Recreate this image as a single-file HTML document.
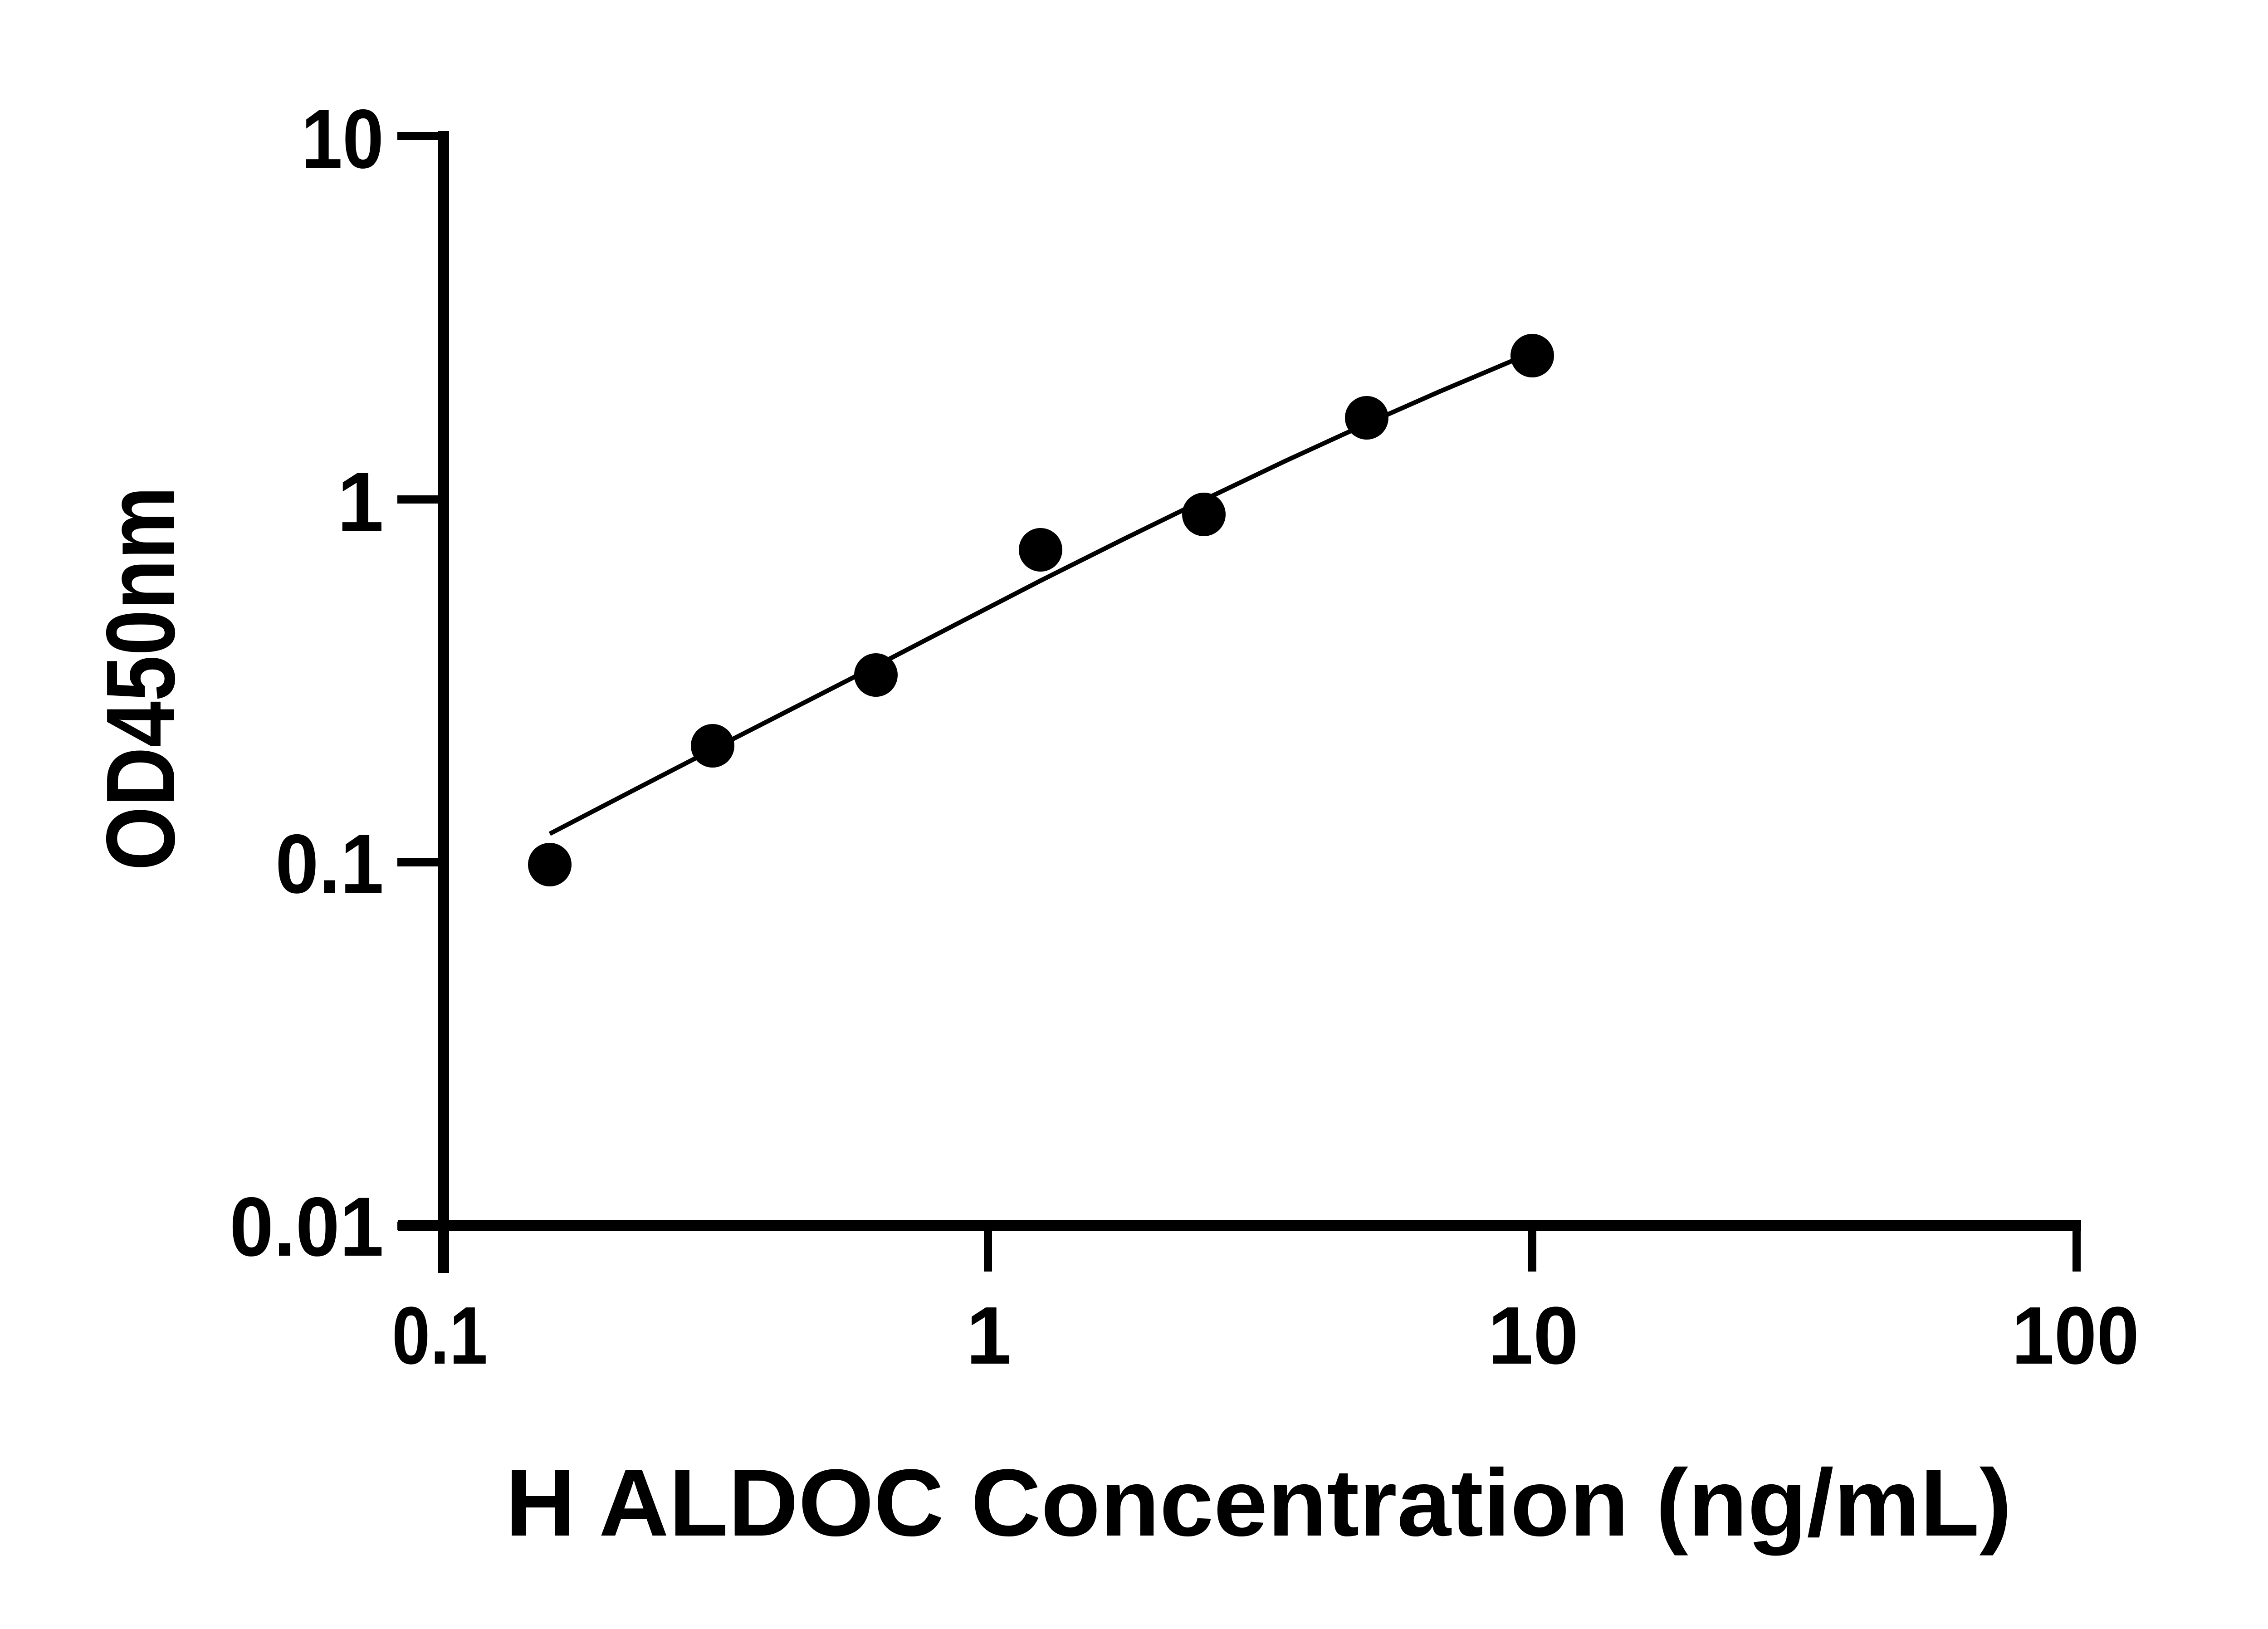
<!DOCTYPE html>
<html><head><meta charset="utf-8"><style>html,body{margin:0;padding:0;background:#fff}svg{display:block}</style></head>
<body>
<svg width="5138" height="3591" viewBox="0 0 5138 3591" xmlns="http://www.w3.org/2000/svg">
<rect width="5138" height="3591" fill="#fff"/>
<g stroke="#000" fill="none">
<line x1="978" y1="289" x2="978" y2="2806" stroke-width="24"/>
<line x1="877" y1="2702" x2="4588" y2="2702" stroke-width="24"/>
<g stroke-width="18">
<line x1="876" y1="300" x2="978" y2="300"/>
<line x1="876" y1="1101" x2="978" y2="1101"/>
<line x1="876" y1="1901" x2="978" y2="1901"/>
<line x1="876" y1="2702" x2="978" y2="2702"/>
<line x1="2178" y1="2702" x2="2178" y2="2803"/>
<line x1="3378" y1="2702" x2="3378" y2="2803"/>
<line x1="4578" y1="2702" x2="4578" y2="2803"/>
</g>
<polyline stroke-width="10" stroke-linejoin="round" points="1212,1838 1391,1745 1571,1652 1751,1560 1931,1468 2112,1374 2294,1280 2474,1190 2654,1102 2834,1016 3013,934 3174,863 3335,795"/>
</g>
<g fill="#000">
<circle cx="1212" cy="1906" r="48"/>
<circle cx="1571" cy="1644" r="48"/>
<circle cx="1931" cy="1488" r="48"/>
<circle cx="2294" cy="1212" r="48"/>
<circle cx="2654" cy="1134" r="48"/>
<circle cx="3013" cy="921" r="48"/>
<circle cx="3378" cy="784" r="48"/>
</g>
<g font-family="Liberation Sans, sans-serif" font-weight="bold" fill="#000">
<text x="846" y="370" font-size="185" text-anchor="end" textLength="182" lengthAdjust="spacingAndGlyphs">10</text>
<text x="846" y="1170" font-size="185" text-anchor="end">1</text>
<text x="846" y="1968" font-size="185" text-anchor="end" textLength="239" lengthAdjust="spacingAndGlyphs">0.1</text>
<text x="846" y="2768" font-size="185" text-anchor="end" textLength="340" lengthAdjust="spacingAndGlyphs">0.01</text>
<text x="864" y="3006" font-size="180" textLength="211" lengthAdjust="spacingAndGlyphs">0.1</text>
<text x="2180" y="3006" font-size="180" text-anchor="middle">1</text>
<text x="3380" y="3006" font-size="180" text-anchor="middle">10</text>
<text x="4435" y="3006" font-size="180" textLength="281" lengthAdjust="spacingAndGlyphs">100</text>
<text x="1114" y="3385" font-size="210" textLength="3321" lengthAdjust="spacingAndGlyphs">H ALDOC Concentration (ng/mL)</text>
<text transform="translate(384,1919) rotate(-90)" font-size="215" textLength="847" lengthAdjust="spacingAndGlyphs">OD450nm</text>
</g>
</svg>
</body></html>
